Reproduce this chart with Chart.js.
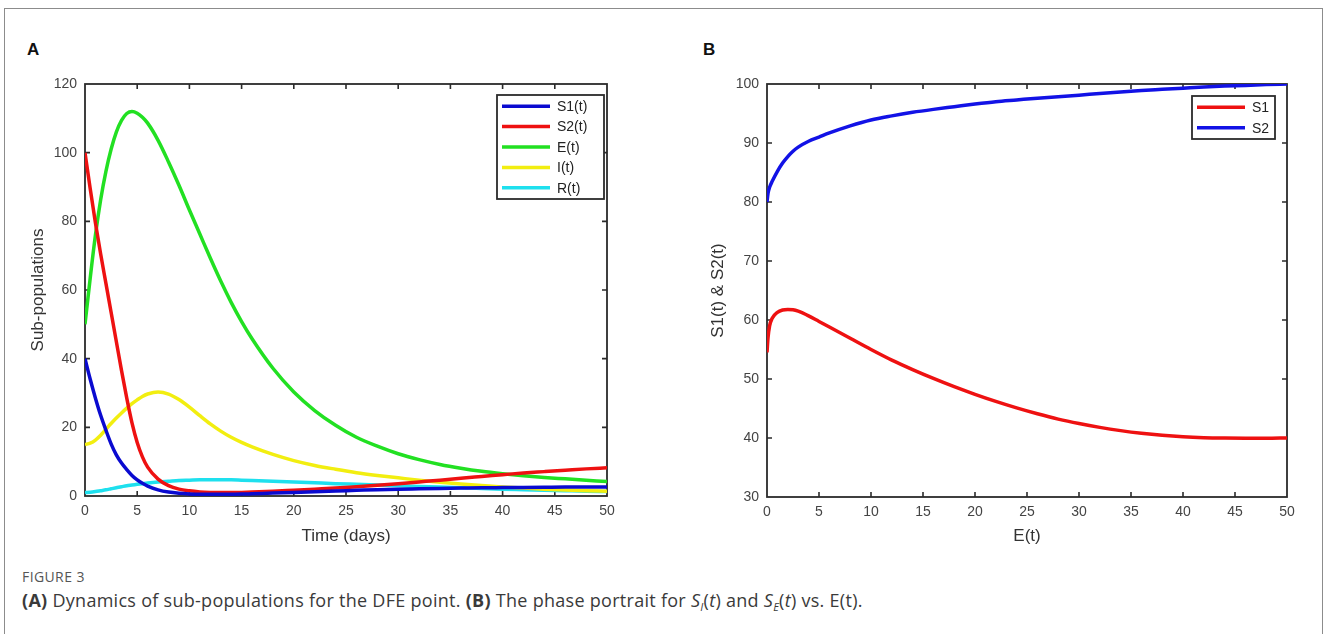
<!DOCTYPE html>
<html>
<head>
<meta charset="utf-8">
<script src="https://cdn.jsdelivr.net/npm/chart.js@4.4.1/dist/chart.umd.min.js"></script>
<style>
  html, body { margin:0; padding:0; background:#fff; }
  #page { position:relative; width:1328px; height:634px; overflow:hidden; background:#fff; }
  #frame { position:absolute; left:4px; top:8px; width:1319px; height:700px; border:1px solid #8c8c8c; box-sizing:border-box; }
  .wrap { position:absolute; top:60px; width:620px; height:500px; }
  .panel { position:absolute; font-family:"Liberation Sans", Arial, sans-serif; font-weight:bold; font-size:17px; color:#111; line-height:20px; }
  #figlabel { position:absolute; left:22px; top:568px; font-family:"Open Sans", sans-serif; font-size:14px; color:#555; letter-spacing:0.4px; line-height:18px; }
  #caption { position:absolute; left:22px; top:588px; font-family:"Open Sans", sans-serif; font-size:18px; color:#3a3a3a; line-height:24px; white-space:nowrap; letter-spacing:0.28px; }
  #caption sub { font-size:11px; vertical-align:-4px; line-height:0; }
</style>
</head>
<body>
<div id="page">
  <div id="frame"></div>
  <div class="panel" style="left:27px; top:40px;">A</div>
  <div class="panel" style="left:703px; top:40px;">B</div>
  <div class="wrap" style="left:10px;"><canvas id="chartA" width="620" height="500"></canvas></div>
  <div class="wrap" style="left:690px;"><canvas id="chartB" width="620" height="500"></canvas></div>
  <div id="figlabel">FIGURE 3</div>
  <div id="caption"><b>(A)</b> Dynamics of sub-populations for the DFE point. <b>(B)</b> The phase portrait for <i>S<sub>I</sub></i>(<i>t</i>) and <i>S<sub>E</sub></i>(<i>t</i>) vs. E(t).</div>
</div>
<script>
// ---------- Panel A data (time in days) ----------
const timeDays = [0,0.5,1,1.5,2,2.5,3,3.5,4,4.5,5,5.5,6,7,8,9,10,11,12,13,14,15,16,18,20,22,24,26,28,30,32,34,36,38,40,42,44,46,48,50];
const S1 = [40,34,28.5,23.5,19.2,15.2,12,9.6,7.7,6,4.7,3.7,2.9,1.8,1.15,0.8,0.6,0.5,0.5,0.5,0.5,0.55,0.65,0.85,1.05,1.25,1.45,1.65,1.85,2.0,2.1,2.2,2.3,2.4,2.45,2.5,2.55,2.6,2.6,2.6];
const S2 = [100,89.5,79.5,70.5,62,53.5,45,36.5,28.5,21.3,15.6,11.4,8.4,4.9,3,2,1.5,1.2,1.05,1,1,1.05,1.15,1.4,1.7,2,2.3,2.7,3.1,3.6,4.1,4.6,5.2,5.7,6.2,6.7,7.1,7.5,7.9,8.2];
const E  = [50,63.5,76,86.3,94.5,101,106,109.4,111.4,112,111.5,110.3,108.6,103.6,97.3,90.5,83.3,76.3,69.3,62.6,56.4,50.8,45.8,37.2,30.3,24.9,20.6,17.1,14.5,12.3,10.6,9.2,8.1,7.2,6.5,5.9,5.4,5,4.6,4.2];
const I  = [15,15.4,16.3,17.7,19.4,21.1,22.7,24.2,25.6,26.9,28,29,29.7,30.3,29.7,28.1,25.9,23.4,21,18.9,17.1,15.6,14.3,12.1,10.3,8.9,7.8,6.8,6,5.3,4.6,4.0,3.5,3.05,2.65,2.3,2.0,1.75,1.55,1.4];
const R  = [1,1.1,1.3,1.55,1.8,2.1,2.4,2.7,3,3.2,3.4,3.6,3.8,4.1,4.3,4.5,4.6,4.7,4.7,4.7,4.7,4.6,4.5,4.3,4.1,3.85,3.6,3.4,3.2,3,2.8,2.6,2.4,2.2,2.0,1.85,1.7,1.55,1.4,1.3];
const seriesNamesA = ['S1(t)','S2(t)','E(t)','I(t)','R(t)'];
const xTicksA = [0,5,10,15,20,25,30,35,40,45,50];
const yTicksA = [0,20,40,60,80,100,120];

// ---------- Panel B data (phase portrait vs E(t)) ----------
const Evals = [0,0.1,0.25,0.5,1,1.5,2,2.5,3,4,5,6,8,10,12,14,16,18,20,22,24,26,28,30,32,34,36,38,40,42,44,46,48,50];
const phaseS1 = [54.5,57,59,60.3,61.3,61.7,61.8,61.75,61.5,60.7,59.75,58.8,56.9,55.0,53.2,51.6,50.1,48.7,47.4,46.2,45.1,44.1,43.2,42.45,41.8,41.25,40.8,40.45,40.2,40.05,39.98,39.95,39.95,40];
const phaseS2 = [80,81.5,82.5,83.5,85.2,86.6,87.7,88.6,89.3,90.3,91,91.7,92.9,93.9,94.6,95.2,95.7,96.15,96.6,97,97.3,97.6,97.85,98.1,98.4,98.65,98.9,99.1,99.3,99.5,99.65,99.75,99.9,100];
const seriesNamesB = ['S1','S2'];
const xTicksB = [0,5,10,15,20,25,30,35,40,45,50];
const yTicksB = [30,40,50,60,70,80,90,100];

const FONT = '"Liberation Sans", Arial, Helvetica, sans-serif';
const TICK_COLOR = '#444';
const AXIS_COLOR = '#2b2b2b';

const matlabBox = {
  id: 'matlabBox',
  beforeDatasetsDraw(chart) {
    const {ctx, chartArea: a, scales: {x, y}} = chart;
    ctx.save();
    ctx.strokeStyle = AXIS_COLOR;
    ctx.lineWidth = 1.6;
    ctx.beginPath();
    const L = 5;
    x.ticks.forEach(t => {
      const px = x.getPixelForValue(t.value);
      if (px <= a.left + 1 || px >= a.right - 1) return;
      ctx.moveTo(px, a.bottom); ctx.lineTo(px, a.bottom - L);
      ctx.moveTo(px, a.top); ctx.lineTo(px, a.top + L);
    });
    y.ticks.forEach(t => {
      const py = y.getPixelForValue(t.value);
      if (py <= a.top + 1 || py >= a.bottom - 1) return;
      ctx.moveTo(a.left, py); ctx.lineTo(a.left + L, py);
      ctx.moveTo(a.right, py); ctx.lineTo(a.right - L, py);
    });
    ctx.stroke();
    ctx.lineWidth = 1.8;
    ctx.strokeRect(a.left, a.top, a.right - a.left, a.bottom - a.top);
    ctx.restore();
  }
};

const boxLegend = {
  id: 'boxLegend',
  afterDatasetsDraw(chart, args, opts) {
    const {ctx, chartArea: a} = chart;
    const ds = chart.data.datasets;
    const right = a.right - opts.rightGap;
    const left = right - opts.width;
    const top = a.top + opts.topGap;
    const h = opts.padY * 2 + opts.rowH * ds.length;
    ctx.save();
    ctx.fillStyle = '#fff';
    ctx.fillRect(left, top, opts.width, h);
    ctx.strokeStyle = AXIS_COLOR;
    ctx.lineWidth = 1.8;
    ctx.strokeRect(left, top, opts.width, h);
    ctx.font = opts.fontSize + 'px ' + FONT;
    ctx.textBaseline = 'middle';
    ctx.textAlign = 'left';
    ds.forEach((d, i) => {
      const cy = top + opts.padY + opts.rowH * (i + 0.5);
      ctx.strokeStyle = d.borderColor;
      ctx.lineWidth = 3.5;
      ctx.beginPath();
      ctx.moveTo(left + opts.lineStart, cy);
      ctx.lineTo(left + opts.lineStart + opts.lineLen, cy);
      ctx.stroke();
      ctx.fillStyle = '#222';
      ctx.fillText(d.label, left + opts.textX, cy + 1);
    });
    ctx.restore();
  }
};

function pts(xs, ys) { return xs.map((v, i) => ({x: v, y: ys[i]})); }

function lineDs(label, xs, ys, color) {
  return {
    label, data: pts(xs, ys), borderColor: color, backgroundColor: color,
    borderWidth: 3.5, pointRadius: 0, fill: false, cubicInterpolationMode: 'monotone'
  };
}

function makeOptions(cfg) {
  return {
    responsive: false,
    animation: false,
    devicePixelRatio: 1,
    layout: { padding: { left: 0, right: 23, top: 24, bottom: 0 } },
    plugins: {
      legend: { display: false },
      tooltip: { enabled: false },
      boxLegend: cfg.legend
    },
    scales: {
      x: {
        type: 'linear', min: cfg.xTicks[0], max: cfg.xTicks[cfg.xTicks.length - 1],
        afterBuildTicks: s => { s.ticks = cfg.xTicks.map(v => ({value: v})); },
        afterFit: s => { s.height = cfg.xHeight; },
        grid: { display: false, drawTicks: false },
        border: { display: false },
        ticks: { color: TICK_COLOR, font: { family: FONT, size: 14 }, padding: 7, maxRotation: 0, autoSkip: false },
        title: { display: true, text: cfg.xTitle, color: '#333', font: { family: FONT, size: 17 }, padding: { top: 0, bottom: 13 } }
      },
      y: {
        type: 'linear', min: cfg.yTicks[0], max: cfg.yTicks[cfg.yTicks.length - 1],
        afterBuildTicks: s => { s.ticks = cfg.yTicks.map(v => ({value: v})); },
        afterFit: s => { s.width = cfg.yWidth; },
        grid: { display: false, drawTicks: false },
        border: { display: false },
        ticks: { color: TICK_COLOR, font: { family: FONT, size: 14 }, padding: 8, autoSkip: false },
        title: { display: true, text: cfg.yTitle, color: '#333', font: { family: FONT, size: 17 }, padding: { top: 18, bottom: 0 } }
      }
    }
  };
}

const colorsA = ['#0a0ad0', '#ee1111', '#22e022', '#f2ee10', '#1ee0ee'];
const seriesA = [S1, S2, E, I, R];

new Chart(document.getElementById('chartA'), {
  type: 'line',
  data: { datasets: seriesA.map((s, i) => lineDs(seriesNamesA[i], timeDays, s, colorsA[i])) },
  options: makeOptions({
    xTicks: xTicksA, yTicks: yTicksA, xHeight: 64, yWidth: 75,
    xTitle: 'Time (days)', yTitle: 'Sub-populations',
    legend: { rightGap: 3, topGap: 11, width: 107, padY: 1, rowH: 20.4, lineStart: 5, lineLen: 48, textX: 60, fontSize: 14 }
  }),
  plugins: [matlabBox, boxLegend]
});

new Chart(document.getElementById('chartB'), {
  type: 'line',
  data: { datasets: [
    lineDs(seriesNamesB[0], Evals, phaseS1, '#ee1111'),
    lineDs(seriesNamesB[1], Evals, phaseS2, '#1212e6')
  ] },
  options: makeOptions({
    xTicks: xTicksB, yTicks: yTicksB, xHeight: 63, yWidth: 77,
    xTitle: 'E(t)', yTitle: 'S1(t) & S2(t)',
    legend: { rightGap: 12, topGap: 12, width: 83, padY: 1, rowH: 20.5, lineStart: 5, lineLen: 48, textX: 60, fontSize: 14 }
  }),
  plugins: [matlabBox, boxLegend]
});
</script>
</body>
</html>
